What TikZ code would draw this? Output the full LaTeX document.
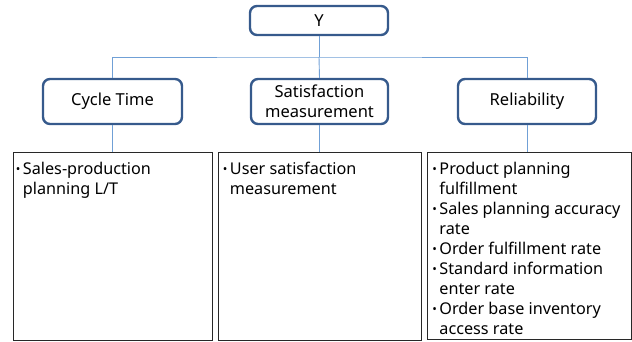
\documentclass[tikz,border=0pt]{standalone}
\usepackage{fontspec}
\setmainfont{Noto Sans}
\definecolor{boxblue}{RGB}{54,90,140}
\definecolor{linkblue}{RGB}{112,160,214}
\definecolor{listgray}{RGB}{40,40,40}
% one bullet entry with hanging indent
\newcommand{\bentry}[1]{\par\hangindent=7pt\hangafter=1\noindent
  \makebox[7pt][l]{\raisebox{0.2ex}{\scalebox{0.75}{\textbullet}}}#1}
\tikzset{
  head/.style={draw=boxblue, line width=2.4pt, rounded corners=7pt, fill=white,
    font=\fontsize{16.5}{20}\selectfont, align=center, inner sep=0pt},
  listbox/.style={draw=listgray, line width=0.9pt, anchor=north west,
    inner xsep=2pt, inner ysep=0pt, align=left},
  link/.style={draw=linkblue, line width=0.9pt},
}
\newcommand{\listtext}[2]{\begin{minipage}[t][#1][t]{194pt}%
  \fontsize{16.2}{20}\selectfont\vspace{9pt}#2\end{minipage}}
\begin{document}
\begin{tikzpicture}[x=1pt,y=-1pt]
\useasboundingbox (0,0) rectangle (632,342);
% top node and the three criteria
\node[head, minimum width=138pt, minimum height=29pt] (y) at (319,20.5) {Y};
\node[head, minimum width=139pt, minimum height=45pt] (ct) at (112.5,101.5) {Cycle Time};
\node[head, minimum width=137pt, minimum height=45pt] (sm) at (319.5,101.5) {Satisfaction\\measurement};
\node[head, minimum width=138pt, minimum height=45pt] (rl) at (527,101.5) {Reliability};
% measure lists
\node[listbox, minimum width=199pt, minimum height=188pt] (l1) at (13,152)
  {\listtext{186pt}{\bentry{Sales-production\\planning L/T}}};
\node[listbox, minimum width=203pt, minimum height=188pt] (l2) at (218,152)
  {\listtext{186pt}{\bentry{User satisfaction\\measurement}}};
\node[listbox, minimum width=204pt, minimum height=187pt] (l3) at (427,152)
  {\listtext{185pt}{\bentry{Product planning\\fulfillment}
    \bentry{Sales planning accuracy\\rate}
    \bentry{Order fulfillment rate}
    \bentry{Standard information\\enter rate}
    \bentry{Order base inventory\\access rate}}};
% connectors
\coordinate (bus) at (319,57);
\path[link] (y.south) -- (bus);
\path[link] (ct.north) |- (bus) -| (rl.north);
\path[link] (bus) -- (sm.north);
\path[link] (ct.south) -- (ct.south |- l1.north);
\path[link] (sm.south) -- (sm.south |- l2.north);
\path[link] (rl.south) -- (rl.south |- l3.north);
\end{tikzpicture}
\end{document}
